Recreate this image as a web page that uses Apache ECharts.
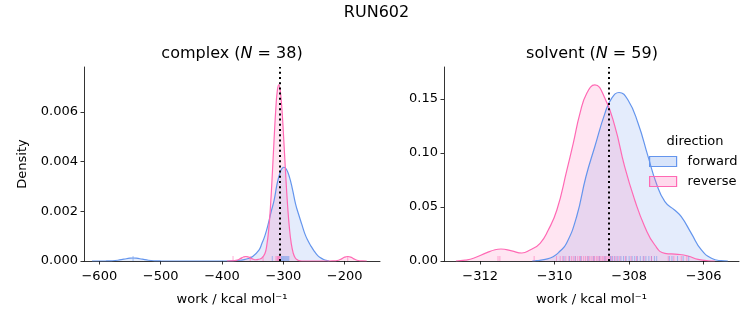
<!DOCTYPE html>
<html><head><meta charset="utf-8">
<script src="https://cdn.jsdelivr.net/npm/echarts@6/dist/echarts.min.js"></script>
<style>html,body{margin:0;padding:0;background:#fff}#c{width:753px;height:325px}</style>
</head><body><div id="c"></div>
<script>
// ---- complex (left) ----
const complexForwardX = [-612,-600,-590,-580,-570,-560,-550,-545,-540,-530,-520,-510,-500,-450,-400,-380,-370,-360,-350,-340,-335,-330,-325,-320,-315,-310,-305,-302,-299,-295,-290,-285,-280,-275,-270,-265,-260,-255,-250,-245,-240,-235,-230,-225];
const complexForwardY = [0,0,0.000001,0.000008,0.00003,0.000073,0.000114,0.00012,0.000114,0.000073,0.00003,0.000008,0.000001,0,0,0.00001,0.00003,0.00008,0.00018,0.00043,0.00070,0.00102,0.00145,0.00197,0.00245,0.00312,0.00358,0.00372,0.00377,0.00369,0.00337,0.00287,0.00229,0.00187,0.00148,0.00110,0.00082,0.00060,0.00041,0.00025,0.00014,0.00007,0.00003,0];
const complexReverseX = [-392,-385,-380,-375,-370,-365,-361,-357,-353,-349,-345,-340,-335,-330,-327,-324,-321,-318,-315,-312,-310,-307.5,-305,-302,-299,-296,-293,-290,-287,-284,-281,-278,-275,-270,-225,-220,-215,-210,-205,-200,-195,-190,-185,-180,-175,-170,-164];
const complexReverseY = [0,0.000002,0.000011,0.000039,0.000096,0.000159,0.00018,0.000159,0.000109,0.00007,0.00005,0.00007,0.00012,0.00030,0.00063,0.00122,0.00218,0.00348,0.00493,0.00622,0.0068,0.00708,0.00684,0.00599,0.00474,0.0034,0.00221,0.0013,0.00069,0.00033,0.00014,0.00006,0.00002,0,0,0.000002,0.000008,0.000031,0.000085,0.000155,0.00018,0.000155,0.000085,0.000031,0.000008,0.000002,0];
const complexRugForward = [-545,-318,-303,-301.5,-300,-298.5,-297,-295.5,-294,-292.5,-291];
const complexRugReverse = [-382,-354,-333,-312,-310,-309,-308,-307,-306,-305,-195];
const complexMean = -305.5;
const complexXTicks = [-600,-500,-400,-300,-200];
const complexYTicks = [0,0.002,0.004,0.006];

// ---- solvent (right) ----
const solventForwardX = [-310.6,-310.48,-310.25,-310.04,-309.86,-309.68,-309.41,-309.16,-308.92,-308.65,-308.47,-308.27,-308.03,-307.76,-307.49,-307.27,-307.04,-306.78,-306.6,-306.33,-306.06,-305.79,-305.53,-305.35];
const solventForwardY = [0,0.0003,0.0015,0.004,0.009,0.0164,0.041,0.078,0.106,0.1367,0.1506,0.156,0.149,0.1275,0.0966,0.072,0.055,0.0472,0.041,0.0256,0.0102,0.0025,0.0003,0];
const solventReverseX = [-312.65,-312.4,-312.18,-311.82,-311.6,-311.44,-311.15,-310.88,-310.66,-310.39,-310.17,-309.94,-309.67,-309.5,-309.32,-309.14,-308.92,-308.65,-308.38,-308.12,-307.85,-307.58,-307.31,-307.04,-306.69,-306.42,-306.15,-305.88,-305.7];
const solventReverseY = [0,0.0008,0.0025,0.0077,0.0104,0.0111,0.0093,0.0074,0.0102,0.0164,0.0287,0.0472,0.0843,0.109,0.1367,0.155,0.163,0.1506,0.1244,0.0873,0.0565,0.0318,0.0148,0.0071,0.0062,0.0046,0.0015,0.0002,0];
const solventRugForward = [-309.75,-309.6,-309.45,-309.3,-309.1,-308.95,-308.8,-308.65,-308.5,-308.45,-308.38,-308.3,-308.22,-308.15,-308.08,-308.0,-307.92,-307.85,-307.78,-307.7,-307.62,-307.55,-307.47,-307.4,-307.32,-307.26,-306.92,-306.85,-306.7,-306.55,-306.4];
const solventRugReverse = [-311.52,-311.47,-310.55,-309.95,-309.85,-309.78,-309.7,-309.62,-309.55,-309.5,-309.44,-309.38,-309.33,-309.28,-309.22,-309.17,-309.12,-309.07,-309.02,-308.97,-308.93,-308.88,-308.84,-308.8,-308.76,-308.72,-308.68,-308.64,-308.6,-308.56,-308.52,-308.47,-308.4,-308.33,-308.25,-308.1,-307.95,-307.8,-307.6,-307.4,-306.95,-306.8,-306.6,-306.45];
const solventMean = -308.54;
const solventXTicks = [-312,-310,-308,-306];
const solventYTicks = [0,0.05,0.10,0.15];

const BLUE = '#6495ed', PINK = '#ff69b4';
const BLUE_FILL = 'rgba(100,149,237,0.25)', PINK_FILL = 'rgba(255,105,180,0.25)';
const FONT = 'DejaVu Sans';

const zip = (xs, ys) => xs.map((x, i) => [x, ys[i]]);
const rug = xs => xs.map(x => [x, 0]);

function xAxis(idx, min, max, ticks, dec) {
  return {
    type: 'value', gridIndex: idx, min, max,
    name: 'work / kcal mol⁻¹', nameLocation: 'middle', nameGap: 32,
    nameTextStyle: {fontFamily: FONT, fontSize: 13, color: '#000'},
    axisLine: {show: true, onZero: false, lineStyle: {color: '#000', width: 0.8}},
    axisTick: {show: true, customValues: ticks, length: 3.5, lineStyle: {color: '#000', width: 0.8}},
    axisLabel: {customValues: ticks, fontFamily: FONT, fontSize: 13, color: '#000', margin: 9,
      formatter: v => (v < 0 ? '\u2212' + Math.abs(v).toFixed(dec) : v.toFixed(dec))},
    splitLine: {show: false}
  };
}
function yAxis(idx, max, ticks, dec, name) {
  return {
    type: 'value', gridIndex: idx, min: 0, max,
    name: name, nameLocation: 'middle', nameGap: 55,
    nameTextStyle: {fontFamily: FONT, fontSize: 13, color: '#000'},
    axisLine: {show: true, lineStyle: {color: '#000', width: 0.8}},
    axisTick: {show: true, customValues: ticks, length: 3.5, lineStyle: {color: '#000', width: 0.8}},
    axisLabel: {customValues: ticks, fontFamily: FONT, fontSize: 13, color: '#000', margin: 6,
      formatter: v => v.toFixed(dec)},
    splitLine: {show: false}
  };
}
function kde(name, idx, xs, ys, line, fill, mean) {
  const s = {
    name, type: 'line', xAxisIndex: idx, yAxisIndex: idx, data: zip(xs, ys),
    showSymbol: false, symbol: 'none', smooth: 0.5,
    lineStyle: {color: line, width: 1.2}, itemStyle: {color: fill, borderColor: line},
    areaStyle: {color: fill, origin: 'start'}, z: 2, animation: false
  };
  if (mean !== undefined) {
    s.markLine = {silent: true, symbol: 'none', label: {show: false},
      lineStyle: {color: '#000', type: [2, 3.2], width: 2}, data: [{xAxis: mean}], animation: false};
  }
  return s;
}
function rugSeries(name, idx, xs, color) {
  return {name, type: 'scatter', xAxisIndex: idx, yAxisIndex: idx, data: rug(xs),
    symbol: 'rect', symbolSize: [1, 5], symbolOffset: [0, -2.5],
    itemStyle: {color, opacity: 0.55}, z: 3, animation: false, silent: true};
}

const titleRich = {
  n: {fontFamily: FONT, fontSize: 16, fontWeight: 'normal', color: '#000'},
  i: {fontFamily: FONT, fontSize: 16, fontWeight: 'normal', fontStyle: 'italic', color: '#000'}
};

const chart = echarts.init(document.getElementById('c'), null, {renderer: 'canvas'});
chart.setOption({
  backgroundColor: '#fff',
  animation: false,
  title: [
    {text: 'RUN602', left: 'center', top: 5, padding: 0, textStyle: {fontFamily: FONT, fontSize: 16, fontWeight: 'normal', color: '#000'}},
    {text: '{n|complex (}{i|N}{n| = 38)}', left: 232, textAlign: 'center', top: 46, padding: 0,
      textStyle: {fontWeight: 'normal', rich: titleRich}},
    {text: '{n|solvent (}{i|N}{n| = 59)}', left: 592, textAlign: 'center', top: 46, padding: 0,
      textStyle: {fontWeight: 'normal', rich: titleRich}},
    {text: 'direction', left: 695, textAlign: 'center', top: 135, padding: 0, textStyle: {fontFamily: FONT, fontSize: 13, fontWeight: 'normal', color: '#000'}}
  ],
  legend: {
    orient: 'vertical', left: 649, top: 155, padding: 0, itemWidth: 27, itemHeight: 10, itemGap: 7,
    textStyle: {fontFamily: FONT, fontSize: 13, color: '#000', padding: [0, 0, 0, 6]},
    data: [
      {name: 'forward', icon: 'rect', itemStyle: {color: BLUE_FILL, borderColor: BLUE, borderWidth: 1.2}},
      {name: 'reverse', icon: 'rect', itemStyle: {color: PINK_FILL, borderColor: PINK, borderWidth: 1.2}}
    ]
  },
  grid: [
    {left: 84, top: 67, width: 296, height: 194},
    {left: 444, top: 67, width: 295, height: 194}
  ],
  xAxis: [xAxis(0, -625, -142.4, complexXTicks, 0), xAxis(1, -312.97, -305.05, solventXTicks, 0)],
  yAxis: [yAxis(0, 0.0078, complexYTicks, 3, 'Density'), yAxis(1, 0.1796, solventYTicks, 2, '')],
  series: [
    kde('forward', 0, complexForwardX, complexForwardY, BLUE, BLUE_FILL),
    kde('reverse', 0, complexReverseX, complexReverseY, PINK, PINK_FILL, complexMean),
    kde('forward', 1, solventForwardX, solventForwardY, BLUE, BLUE_FILL),
    kde('reverse', 1, solventReverseX, solventReverseY, PINK, PINK_FILL, solventMean),
    rugSeries('forward', 0, complexRugForward, BLUE),
    rugSeries('reverse', 0, complexRugReverse, PINK),
    rugSeries('forward', 1, solventRugForward, BLUE),
    rugSeries('reverse', 1, solventRugReverse, PINK)
  ]
});
</script></body></html>
